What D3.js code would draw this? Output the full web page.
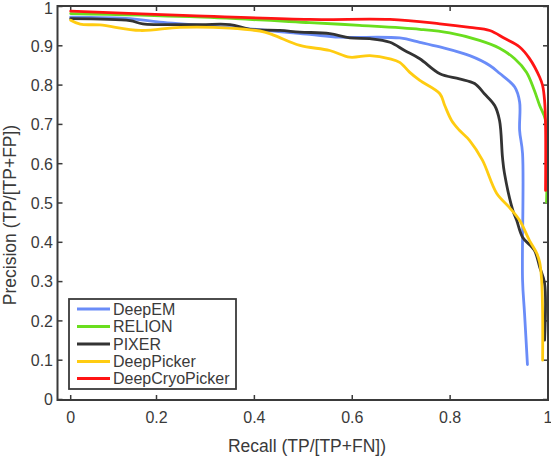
<!DOCTYPE html>
<html>
<head>
<meta charset="utf-8">
<script src="https://cdn.jsdelivr.net/npm/d3@7"></script>
<style>
  html, body { margin: 0; padding: 0; background: #fff; }
  svg { display: block; }
  text { font-family: "Liberation Sans", Arial, sans-serif; fill: #3a3a3a; }
</style>
</head>
<body>
<svg id="chart" width="551" height="457"></svg>
<script>
// ---- data (recall, precision) ----
const seriesNames = ["DeepEM", "RELION", "PIXER", "DeepPicker", "DeepCryoPicker"];
const seriesColors = ["#6a8cf8", "#6ade1e", "#333333", "#ffcc11", "#ff1414"];

const deepEM = [
  [0, 0.973], [0.138, 0.969], [0.207, 0.960], [0.391, 0.943], [0.513, 0.929],
  [0.574, 0.922], [0.697, 0.920], [0.738, 0.909], [0.779, 0.897], [0.840, 0.875],
  [0.881, 0.850], [0.901, 0.830], [0.932, 0.795], [0.942, 0.757], [0.942, 0.685],
  [0.948, 0.626], [0.948, 0.304], [0.952, 0.220], [0.958, 0.089]
];
const relion = [
  [0, 0.982], [0.268, 0.974], [0.513, 0.959], [0.615, 0.952], [0.738, 0.942],
  [0.799, 0.933], [0.860, 0.914], [0.901, 0.894], [0.932, 0.867], [0.956, 0.833],
  [0.972, 0.787], [0.983, 0.748], [0.995, 0.710], [0.997, 0.502]
];
const pixer = [
  [0, 0.969], [0.138, 0.964], [0.168, 0.956], [0.289, 0.954], [0.350, 0.954],
  [0.391, 0.942], [0.452, 0.939], [0.493, 0.935], [0.554, 0.931], [0.595, 0.920],
  [0.636, 0.918], [0.677, 0.909], [0.707, 0.888], [0.738, 0.867], [0.779, 0.829],
  [0.819, 0.816], [0.850, 0.804], [0.870, 0.778], [0.891, 0.748], [0.901, 0.710],
  [0.907, 0.616], [0.911, 0.576], [0.928, 0.482], [0.936, 0.456], [0.948, 0.413],
  [0.972, 0.380], [0.983, 0.337], [0.993, 0.296], [0.993, 0.151]
];
const deepPicker = [
  [0, 0.965], [0.022, 0.955], [0.068, 0.953], [0.162, 0.939], [0.248, 0.947],
  [0.350, 0.945], [0.421, 0.935], [0.442, 0.926], [0.493, 0.901], [0.554, 0.888],
  [0.595, 0.871], [0.636, 0.875], [0.677, 0.867], [0.697, 0.858], [0.717, 0.833],
  [0.738, 0.812], [0.779, 0.778], [0.789, 0.748], [0.803, 0.710], [0.819, 0.685],
  [0.840, 0.659], [0.866, 0.609], [0.895, 0.525], [0.921, 0.489], [0.942, 0.456],
  [0.962, 0.405], [0.977, 0.372], [0.983, 0.349], [0.987, 0.304], [0.989, 0.220],
  [0.989, 0.100]
];
const deepCryoPicker = [
  [0, 0.988], [0.268, 0.977], [0.513, 0.967], [0.677, 0.967], [0.779, 0.956],
  [0.840, 0.947], [0.881, 0.939], [0.911, 0.919], [0.942, 0.897], [0.962, 0.868],
  [0.983, 0.820], [0.989, 0.799], [0.993, 0.761], [0.995, 0.700], [0.995, 0.532]
];
const seriesData = [deepEM, relion, pixer, deepPicker, deepCryoPicker];

const xTicks = [0, 0.2, 0.4, 0.6, 0.8, 1];
const xTickLabels = ["0", "0.2", "0.4", "0.6", "0.8", "1"];
const yTicks = [0, 0.1, 0.2, 0.3, 0.4, 0.5, 0.6, 0.7, 0.8, 0.9, 1];
const yTickLabels = ["0", "0.1", "0.2", "0.3", "0.4", "0.5", "0.6", "0.7", "0.8", "0.9", "1"];
const xTitle = "Recall (TP/[TP+FN])";
const yTitle = "Precision (TP/[TP+FP])";

// ---- layout ----
const svg = d3.select("#chart");
const L = 57.5, R = 548, T = 6, B = 400;
const x = d3.scaleLinear().domain([-0.031, 0, 0.2, 1]).range([L, 70.7, 156.5, R]);
const y = d3.scaleLinear().domain([0, 1]).range([399.5, 6.5]);
const axisColor = "#3a3a3a";

// ticks (inside, all four sides)
const tl = 5;
const g = svg.append("g");
xTicks.forEach(v => {
  g.append("line").attr("x1", x(v)).attr("x2", x(v)).attr("y1", B).attr("y2", B - tl)
    .attr("stroke", axisColor).attr("stroke-width", 1.5);
  g.append("line").attr("x1", x(v)).attr("x2", x(v)).attr("y1", T).attr("y2", T + tl)
    .attr("stroke", axisColor).attr("stroke-width", 1.5);
});
yTicks.forEach(v => {
  g.append("line").attr("x1", L).attr("x2", L + tl).attr("y1", y(v)).attr("y2", y(v))
    .attr("stroke", axisColor).attr("stroke-width", 1.5);
  g.append("line").attr("x1", R).attr("x2", R - tl).attr("y1", y(v)).attr("y2", y(v))
    .attr("stroke", axisColor).attr("stroke-width", 1.5);
});

// tick labels
xTicks.forEach((v, i) => {
  svg.append("text").attr("x", x(v)).attr("y", 423).attr("text-anchor", "middle")
    .attr("font-size", 16).text(xTickLabels[i]);
});
yTicks.forEach((v, i) => {
  svg.append("text").attr("x", 53).attr("y", Math.max(y(v) + 5.8, 14)).attr("text-anchor", "end")
    .attr("font-size", 16).text(yTickLabels[i]);
});

// titles
svg.append("text").attr("x", 307).attr("y", 452).attr("text-anchor", "middle")
  .attr("font-size", 17.5).text(xTitle);
svg.append("text").attr("transform", "translate(15.5,215) rotate(-90)")
  .attr("text-anchor", "middle").attr("font-size", 17.5).text(yTitle);

// lines
const line = d3.line().x(d => x(d[0])).y(d => y(d[1])).curve(d3.curveCatmullRom.alpha(0.5));
seriesData.forEach((data, i) => {
  svg.append("path").datum(data).attr("d", line)
    .attr("fill", "none").attr("stroke", seriesColors[i])
    .attr("stroke-width", 2.8).attr("stroke-linejoin", "round").attr("stroke-linecap", "round");
});

// frame
svg.append("rect").attr("x", L).attr("y", T).attr("width", R - L).attr("height", B - T)
  .attr("fill", "none").attr("stroke", axisColor).attr("stroke-width", 2);

// legend
const lg = svg.append("g");
lg.append("rect").attr("x", 69).attr("y", 299).attr("width", 167).attr("height", 90)
  .attr("fill", "#fff").attr("stroke", axisColor).attr("stroke-width", 1.8);
const rowY = [309, 326.5, 344, 361.5, 378.5];
seriesNames.forEach((name, i) => {
  lg.append("line").attr("x1", 77).attr("x2", 110).attr("y1", rowY[i]).attr("y2", rowY[i])
    .attr("stroke", seriesColors[i]).attr("stroke-width", 3);
  lg.append("text").attr("x", 113).attr("y", rowY[i] + 5.8).attr("font-size", 16).text(name);
});
</script>
</body>
</html>
